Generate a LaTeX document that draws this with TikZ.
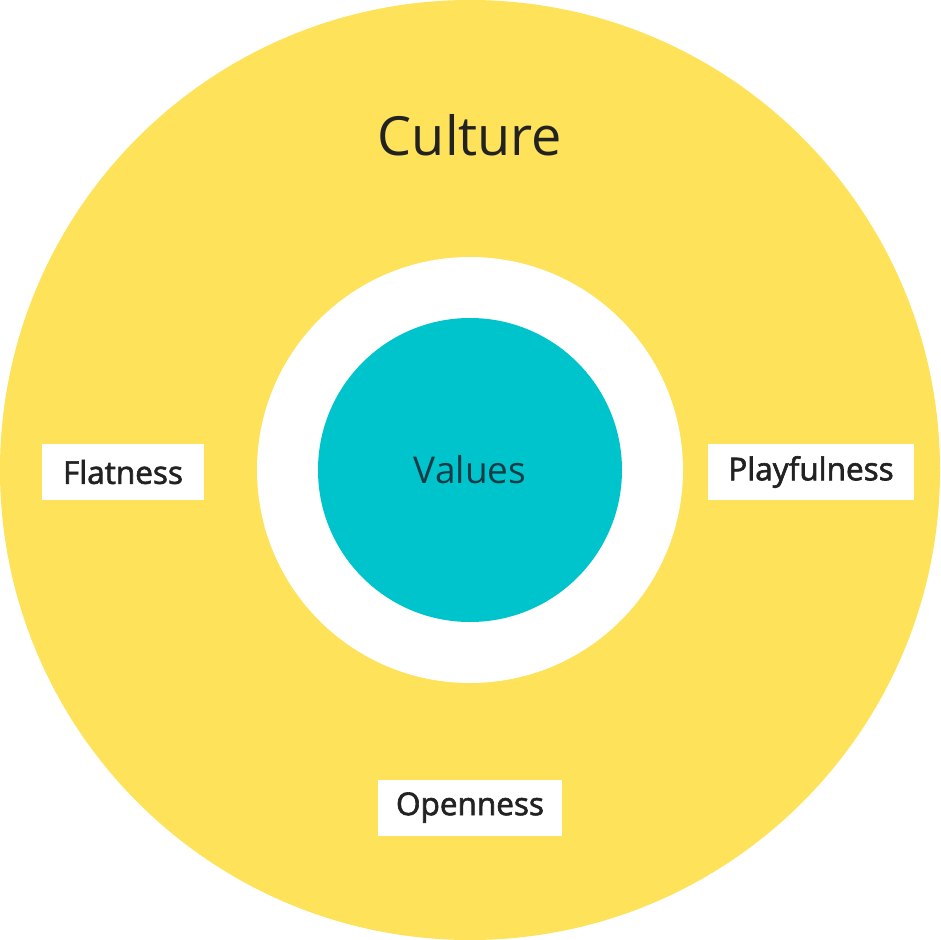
\documentclass[tikz,border=0pt]{standalone}
\usepackage{fontspec}
\setmainfont{Open Sans}
\newfontfamily\medfont[FakeBold=2]{Open Sans}
\definecolor{cyellow}{HTML}{FDE25A}
\definecolor{cteal}{HTML}{00C4CC}
\definecolor{ctext}{HTML}{222222}
\definecolor{cvals}{HTML}{173C48}
\begin{document}
\begin{tikzpicture}[x=1pt,y=-1pt,
  labelbox/.style={fill=white,inner sep=0pt,minimum height=56pt,text=ctext,font=\medfont\fontsize{31.5}{34}\selectfont}]
\useasboundingbox (0,0) rectangle (940,940);
\fill[cyellow] (470,470) circle[radius=470];
\fill[white] (470,470) circle[radius=213];
\node[circle,fill=cteal,minimum size=304pt,inner sep=0pt,text=cvals,font=\fontsize{37}{42}\selectfont] (values) at (470,470) {Values};
\node[text=ctext,font=\fontsize{54}{60}\selectfont] (culture) at (470,135) {Culture};
\node[labelbox,minimum width=162pt] (flat) at (123,472) {Flatness};
\node[labelbox,minimum width=206pt] (play) at (811,472) {Playfulness};
\node[labelbox,minimum width=184pt] (open) at (470,807.5) {Openness};
\end{tikzpicture}
\end{document}
